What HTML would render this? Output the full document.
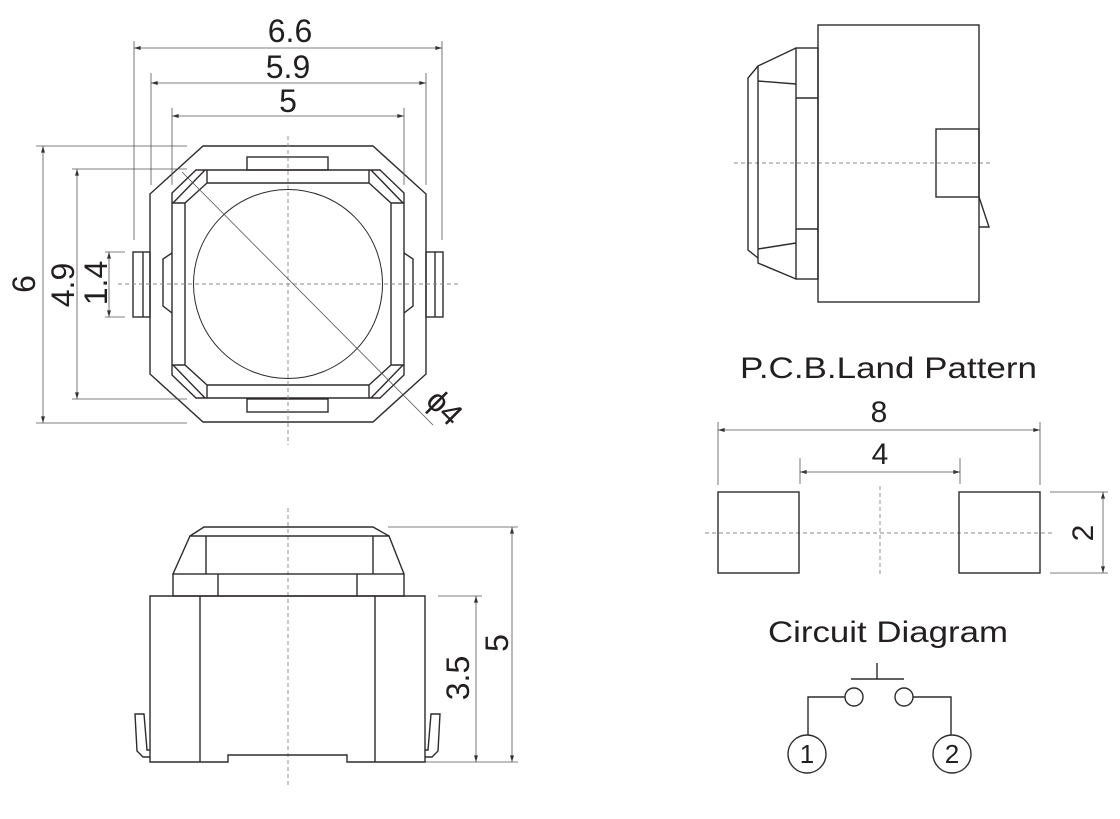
<!DOCTYPE html>
<html><head><meta charset="utf-8"><style>
html,body{margin:0;padding:0;background:#fff;}
svg{display:block;}
text{font-family:"Liberation Sans",sans-serif;fill:#231f20;}
</style></head><body>
<svg width="1120" height="819" viewBox="0 0 1120 819" xmlns="http://www.w3.org/2000/svg">
<defs>
<marker id="a" viewBox="0 0 10 6" refX="10" refY="3" markerWidth="7" markerHeight="4" orient="auto-start-reverse" markerUnits="userSpaceOnUse"><path d="M0,0L10,3L0,6z" fill="#333"/></marker>
<g id="q">
<path d="M150,284 L150,194 L203,146 L288,146" />
<path d="M172,284 L172,193 L196,170 L288,170" />
<path d="M173,203 L205,170" />
<path d="M172,203 L185,203 L207,183 L207,170 M207,183 L288,183 M185,203 L185,284" />
</g>
</defs>
<g fill="none" stroke="#2f2b2c" stroke-width="1.4">
<use href="#q"/>
<use href="#q" transform="translate(576,0) scale(-1,1)"/>
<use href="#q" transform="translate(0,568) scale(1,-1)"/>
<use href="#q" transform="translate(576,568) scale(-1,-1)"/>
<rect x="247" y="157" width="81" height="13"/>
<rect x="247" y="399" width="81" height="13"/>
<rect x="133" y="252" width="17" height="65"/><line x1="143" y1="252" x2="143" y2="317"/>
<rect x="426" y="252" width="17" height="65"/><line x1="435" y1="252" x2="435" y2="317"/>
<path d="M172,253 L163,259 L163,306 L172,313"/>
<path d="M404,253 L413,259 L413,306 L404,313"/>
<circle cx="288" cy="284" r="94.5" stroke-width="1"/>
</g>
<g fill="none" stroke="#888" stroke-width="0.9" stroke-dasharray="4,3">
<line x1="288" y1="136" x2="288" y2="445"/><line x1="118" y1="284" x2="458" y2="284"/>
<line x1="288" y1="508" x2="288" y2="787"/>
<line x1="734" y1="163" x2="990" y2="163"/>
<line x1="705" y1="533" x2="1055" y2="533"/><line x1="880" y1="486" x2="880" y2="576"/>
</g>
<g fill="none" stroke="#555" stroke-width="0.8">
<line x1="182" y1="172" x2="433" y2="425"/>
<line x1="134" y1="48" x2="442" y2="48" marker-start="url(#a)" marker-end="url(#a)"/>
<line x1="134" y1="41" x2="134" y2="240"/><line x1="442" y1="41" x2="442" y2="240"/>
<line x1="151" y1="83" x2="426" y2="83" marker-start="url(#a)" marker-end="url(#a)"/>
<line x1="151" y1="73" x2="151" y2="185"/><line x1="426" y1="73" x2="426" y2="185"/>
<line x1="172" y1="116" x2="404" y2="116" marker-start="url(#a)" marker-end="url(#a)"/>
<line x1="172" y1="108" x2="172" y2="185"/><line x1="404" y1="108" x2="404" y2="185"/>
<line x1="43" y1="146" x2="43" y2="423" marker-start="url(#a)" marker-end="url(#a)"/>
<line x1="36" y1="146" x2="187" y2="146"/><line x1="36" y1="423" x2="187" y2="423"/>
<line x1="77" y1="169" x2="77" y2="399" marker-start="url(#a)" marker-end="url(#a)"/>
<line x1="72" y1="169" x2="187" y2="169"/><line x1="72" y1="399" x2="187" y2="399"/>
<line x1="109" y1="252" x2="109" y2="317" marker-start="url(#a)" marker-end="url(#a)"/>
<line x1="105" y1="252" x2="125" y2="252"/><line x1="105" y1="317" x2="125" y2="317"/>
<line x1="512" y1="527" x2="512" y2="762" marker-start="url(#a)" marker-end="url(#a)"/>
<line x1="388" y1="527" x2="518" y2="527"/><line x1="425" y1="762" x2="518" y2="762"/>
<line x1="476" y1="596" x2="476" y2="762" marker-start="url(#a)" marker-end="url(#a)"/>
<line x1="438" y1="596" x2="482" y2="596"/>
<line x1="718" y1="430" x2="1040" y2="430" marker-start="url(#a)" marker-end="url(#a)"/>
<line x1="718" y1="422" x2="718" y2="485"/><line x1="1040" y1="422" x2="1040" y2="485"/>
<line x1="800" y1="472" x2="960" y2="472" marker-start="url(#a)" marker-end="url(#a)"/>
<line x1="800" y1="458" x2="800" y2="484"/><line x1="960" y1="458" x2="960" y2="484"/>
<line x1="1103" y1="492" x2="1103" y2="573" marker-start="url(#a)" marker-end="url(#a)"/>
<line x1="1050" y1="492" x2="1108" y2="492"/><line x1="1050" y1="573" x2="1108" y2="573"/>
</g>
<g fill="none" stroke="#2f2b2c" stroke-width="1.4">
<path d="M150,596 L425,596 L425,762 L347,762 L347,755 L228,755 L228,762 L150,762 Z"/>
<line x1="200" y1="596" x2="200" y2="762"/><line x1="375" y1="596" x2="375" y2="762"/>
<rect x="173" y="574" width="231" height="22"/>
<line x1="218" y1="574" x2="218" y2="596"/><line x1="357" y1="574" x2="357" y2="596"/>
<path d="M173,574 L190,536 L389,536 L404,574"/>
<line x1="206" y1="536" x2="206" y2="574"/><line x1="373" y1="536" x2="373" y2="574"/>
<path d="M190,536 L204,527 L373,527 L389,536"/>
<path d="M150,757 L143,757 L137,751 L135,714 L144,714 L147,750 L150,750"/>
<path d="M425,757 L432,757 L438,751 L440,714 L431,714 L428,750 L425,750"/>
</g>
<g fill="none" stroke="#2f2b2c" stroke-width="1.4">
<rect x="818" y="25" width="161" height="277"/>
<rect x="796" y="48" width="22" height="231"/>
<line x1="796" y1="98" x2="818" y2="98"/><line x1="796" y1="229" x2="818" y2="229"/>
<path d="M796,48 L758,66 L758,263 L796,279"/>
<path d="M758,81 L796,84 M758,249 L796,243"/>
<path d="M758,66 L748,78 L748,250 L758,258"/>
<rect x="936" y="129" width="43" height="68"/>
<path d="M979,197 L989,227 L979,227"/>
<rect x="718" y="492" width="81" height="81"/>
<rect x="959" y="492" width="81" height="81"/>
<path d="M877,663 L877,679 M851,679 L904,679"/>
<circle cx="854" cy="697" r="9"/><circle cx="904" cy="697" r="9"/>
<path d="M845,697 L808,697 L808,735 M913,697 L951,697 L951,735"/>
<circle cx="807" cy="754" r="19"/><circle cx="952" cy="754" r="19"/>
</g>
<g font-size="32">
<text x="290" y="42" text-anchor="middle">6.6</text>
<text x="288" y="78" text-anchor="middle">5.9</text>
<text x="288" y="112" text-anchor="middle">5</text>
<text transform="translate(35,284) rotate(-90)" text-anchor="middle">6</text>
<text transform="translate(74,285) rotate(-90)" text-anchor="middle">4.9</text>
<text transform="translate(107,283) rotate(-90)" text-anchor="middle">1.4</text>
<text transform="translate(469,678) rotate(-90)" text-anchor="middle">3.5</text>
<text transform="translate(508,643) rotate(-90)" text-anchor="middle">5</text>
<text transform="translate(437,415) rotate(45)" text-anchor="middle">ϕ4</text>
</g>
<g font-size="30">
<text x="740" y="378" textLength="297" lengthAdjust="spacingAndGlyphs">P.C.B.Land Pattern</text>
<text x="879" y="422" text-anchor="middle">8</text>
<text x="880" y="464" text-anchor="middle">4</text>
<text transform="translate(1093,533) rotate(-90)" text-anchor="middle">2</text>
<text x="768" y="642" textLength="240" lengthAdjust="spacingAndGlyphs">Circuit Diagram</text>
</g>
<g font-size="26">
<text x="807" y="763" text-anchor="middle">1</text>
<text x="952" y="763" text-anchor="middle">2</text>
</g>
</svg>
</body></html>
